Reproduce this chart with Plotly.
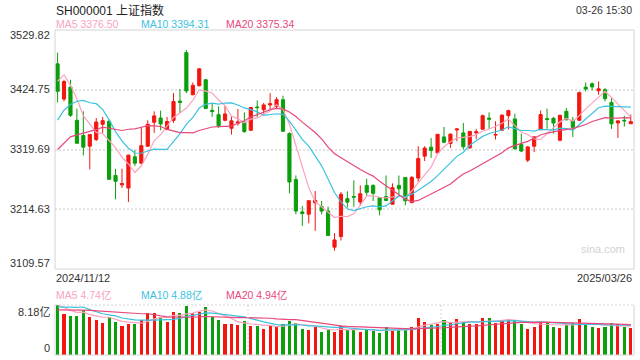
import plotly.graph_objects as go
import pandas as pd

# ---------------- data ----------------
start_label = "2024/11/12"
end_label = "2025/03/26"
title_text = "SH000001 上证指数"
time_text = "03-26 15:30"
y_tick_labels = ["3529.82", "3424.75", "3319.69", "3214.63", "3109.57"]
y_range = [3109.57, 3529.82]
vol_max = 8.18

# closes of the 19 sessions before the first shown day (for moving averages)
prior_closes = [3202.95, 3169.38, 3261.56, 3268.11, 3285.87, 3302.80, 3280.26, 3299.70,
                3322.20, 3286.41, 3266.24, 3279.82, 3272.01, 3310.21, 3386.99, 3383.81,
                3470.66, 3452.30, 3470.07]
prior_volumes = [6.5, 6.3, 7.6, 7.2, 7.0, 7.3, 6.3, 6.6, 7.3, 7.0, 6.4, 6.9, 6.6, 6.9,
                 10.5, 9.0, 8.8, 8.0, 7.2]

opens = [3470.3, 3408.4, 3429.4, 3371.0, 3344.2, 3325.5, 3337.2, 3364.0, 3369.3, 3274.1,
         3257.5, 3252.0, 3306.8, 3295.7, 3325.5, 3367.5, 3375.1, 3354.7, 3371.0, 3404.8,
         3490.1, 3416.0, 3431.8, 3442.3, 3388.6, 3381.0, 3371.0, 3357.0, 3366.0, 3367.5,
         3353.5, 3394.5, 3389.7, 3398.0, 3395.0, 3407.2, 3347.7, 3267.1, 3210.0, 3206.0,
         3226.0, 3219.3, 3211.7, 3148.0, 3166.7, 3233.3, 3237.0, 3227.4, 3256.6, 3256.6,
         3235.0, 3237.0, 3223.4, 3256.6, 3270.6, 3226.3, 3269.5, 3308.0, 3323.8, 3313.8,
         3341.8, 3330.2, 3354.0, 3348.9, 3322.6, 3348.9, 3355.4, 3375.0, 3345.0, 3353.5,
         3379.2, 3373.4, 3328.4, 3301.0, 3325.5, 3354.7, 3374.0, 3374.6, 3336.0, 3386.8,
         3371.0, 3371.0, 3429.4, 3435.3, 3423.0, 3424.7, 3402.5, 3366.4, 3371.0, 3365.0]
highs = [3490.1, 3442.3, 3442.3, 3391.5, 3386.8, 3346.5, 3375.1, 3376.9, 3372.2, 3285.8,
         3285.8, 3310.5, 3318.5, 3359.4, 3371.0, 3386.8, 3388.0, 3376.9, 3418.9, 3425.9,
         3494.8, 3437.6, 3462.7, 3443.4, 3401.4, 3395.6, 3396.7, 3378.0, 3390.9, 3385.0,
         3394.4, 3406.0, 3401.4, 3418.9, 3411.9, 3414.3, 3350.0, 3274.1, 3220.4, 3229.9,
         3246.7, 3229.2, 3219.3, 3172.6, 3245.0, 3246.1, 3265.4, 3256.6, 3268.3, 3258.4,
         3235.5, 3274.0, 3260.1, 3274.0, 3271.0, 3273.0, 3325.5, 3325.5, 3340.0, 3346.8,
         3359.4, 3347.7, 3356.5, 3366.4, 3352.0, 3356.0, 3381.0, 3385.0, 3369.3, 3381.0,
         3389.7, 3382.7, 3347.7, 3325.5, 3342.2, 3388.5, 3391.5, 3377.0, 3380.5, 3392.6,
         3377.0, 3421.8, 3437.6, 3437.6, 3439.4, 3427.6, 3410.1, 3370.5, 3379.0, 3381.0]
lows = [3402.6, 3404.3, 3376.9, 3330.2, 3309.2, 3284.7, 3334.3, 3348.9, 3266.0, 3232.1,
        3252.0, 3227.4, 3290.5, 3294.0, 3324.3, 3348.9, 3353.5, 3354.0, 3366.4, 3383.9,
        3418.9, 3415.0, 3430.6, 3391.0, 3376.9, 3357.6, 3369.3, 3346.0, 3361.7, 3348.9,
        3353.0, 3377.0, 3382.7, 3389.7, 3392.6, 3351.0, 3242.6, 3205.9, 3185.4, 3190.0,
        3176.7, 3205.9, 3167.5, 3141.6, 3159.7, 3217.5, 3219.0, 3220.4, 3238.0, 3229.2,
        3204.0, 3229.0, 3223.0, 3238.0, 3221.6, 3225.0, 3262.5, 3299.3, 3305.0, 3312.7,
        3331.3, 3322.6, 3334.3, 3319.7, 3320.8, 3338.0, 3354.7, 3356.0, 3337.2, 3351.8,
        3354.7, 3319.7, 3315.0, 3297.5, 3315.0, 3353.5, 3356.0, 3347.7, 3334.3, 3371.0,
        3341.8, 3370.5, 3421.8, 3423.6, 3416.0, 3404.3, 3355.9, 3340.0, 3360.0, 3364.5]
closes = [3421.97, 3439.28, 3379.84, 3330.73, 3323.85, 3346.01, 3367.99, 3370.40, 3267.19, 3263.76,
          3259.76, 3309.78, 3295.70, 3326.46, 3363.98, 3378.81, 3364.65, 3368.86, 3404.08, 3402.53,
          3422.66, 3432.49, 3461.50, 3391.88, 3386.33, 3361.49, 3382.21, 3370.03, 3368.07, 3351.26,
          3393.53, 3393.35, 3398.08, 3400.14, 3407.33, 3351.76, 3262.56, 3211.43, 3206.92, 3229.64,
          3230.17, 3211.39, 3168.52, 3160.76, 3240.94, 3227.12, 3236.03, 3241.82, 3244.38, 3242.62,
          3213.62, 3230.16, 3252.63, 3250.60, 3229.49, 3270.66, 3303.67, 3322.17, 3318.06, 3346.39,
          3332.48, 3346.72, 3355.83, 3324.49, 3351.54, 3350.78, 3379.11, 3373.03, 3346.04, 3380.21,
          3388.06, 3320.90, 3316.93, 3324.21, 3341.96, 3381.10, 3372.55, 3366.16, 3379.83, 3371.92,
          3358.73, 3419.56, 3426.13, 3429.76, 3426.43, 3408.95, 3364.83, 3370.03, 3369.98, 3368.70]
volumes = [8.18, 6.71, 6.38, 6.38, 7.36, 6.22, 5.73, 5.29, 6.27, 5.45,
           4.74, 5.07, 5.07, 5.73, 6.82, 6.82, 6.16, 5.45, 7.09, 6.93,
           8.02, 6.82, 7.09, 7.80, 6.27, 5.73, 5.07, 5.07, 4.91, 5.56,
           4.74, 4.74, 4.25, 4.91, 4.64, 5.07, 5.62, 5.29, 4.25, 4.09,
           4.64, 3.82, 4.09, 3.82, 4.74, 4.09, 4.20, 3.82, 4.20, 3.98,
           3.65, 4.64, 3.98, 4.09, 4.09, 4.64, 6.11, 5.45, 4.91, 5.07,
           5.73, 5.34, 5.94, 5.45, 5.07, 5.07, 6.11, 6.11, 5.29, 5.56,
           5.84, 5.73, 5.07, 4.31, 4.64, 5.40, 5.40, 4.64, 4.47, 4.91,
           5.20, 5.85, 5.10, 4.55, 4.42, 4.55, 5.20, 5.00, 4.60, 4.35]

ma_periods = [5, 10, 20]
ma_price_labels = ["MA5 3376.50", "MA10 3394.31", "MA20 3375.34"]
ma_vol_labels = ["MA5 4.74亿", "MA10 4.88亿", "MA20 4.94亿"]
vol_tick_labels = ["8.18亿", "0"]
watermark = "sina.com"

# ---------------- styles ----------------
RED = "#f2160f"
GREEN = "#0b9f0b"
MA_COLORS = ["#fba3bd", "#3cc2df", "#e8487c"]
FONT = "Arial, 'Liberation Sans', 'Noto Sans CJK SC', sans-serif"

W, H = 640, 360
ML, MR, MT, MB = 55, 6, 30, 5
PW, PH = W - ML - MR, H - MT - MB


def px(xp):
    return (xp - ML) / PW


def py(yp):
    return (H - MB - yp) / PH


main_bottom = py(269)
vol_top = py(305)

n = len(closes)
x = list(range(n))
np_ = len(prior_closes)
close_all = pd.Series(prior_closes + closes)
vol_all = pd.Series(prior_volumes + volumes)

fig = go.Figure()

fig.add_trace(go.Candlestick(
    x=x, open=opens, high=highs, low=lows, close=closes,
    increasing=dict(line=dict(color=RED, width=1), fillcolor=RED),
    decreasing=dict(line=dict(color=GREEN, width=1), fillcolor=GREEN),
    whiskerwidth=0, xaxis="x", yaxis="y", showlegend=False, hoverinfo="skip"))

for p, col in zip(ma_periods, MA_COLORS):
    ma = close_all.rolling(p).mean().iloc[np_:].tolist()
    fig.add_trace(go.Scatter(x=x, y=ma, mode="lines", line=dict(color=col, width=1.2),
                             xaxis="x", yaxis="y", showlegend=False, hoverinfo="skip"))

vol_colors = [RED if c > o else GREEN for o, c in zip(opens, closes)]
fig.add_trace(go.Bar(x=x, y=volumes, marker=dict(color=vol_colors, line=dict(width=0)),
                     width=0.48, xaxis="x2", yaxis="y2", showlegend=False, hoverinfo="skip"))
for p, col in zip(ma_periods, MA_COLORS):
    ma = vol_all.rolling(p).mean().iloc[np_:].tolist()
    fig.add_trace(go.Scatter(x=x, y=ma, mode="lines", line=dict(color=col, width=1.2),
                             xaxis="x2", yaxis="y2", showlegend=False, hoverinfo="skip"))

xr = [-0.4, n - 0.5]
axis_common = dict(range=xr, showticklabels=False, showgrid=False, zeroline=False,
                   showline=False, ticks="")
fig.update_layout(
    width=W, height=H, margin=dict(l=ML, r=MR, t=MT, b=MB),
    paper_bgcolor="white", plot_bgcolor="white",
    font=dict(family=FONT, size=11, color="#333"),
    bargap=0,
    xaxis=dict(domain=[0, 1], anchor="y", rangeslider=dict(visible=False), **axis_common),
    xaxis2=dict(domain=[0, 1], anchor="y2", **axis_common),
    yaxis=dict(domain=[main_bottom, 1], range=y_range,
               tickvals=[float(v) for v in y_tick_labels[1:4]],
               showticklabels=False, showgrid=True, gridcolor="#e2e2e2", gridwidth=1.5,
               griddash="2px,2px", zeroline=False, ticks=""),
    yaxis2=dict(domain=[0, vol_top], range=[0, vol_max], showticklabels=False,
                showgrid=False, zeroline=False, ticks=""),
)

frame = "#d4d4d4"
shapes = [
    dict(type="rect", xref="paper", yref="paper", x0=0, x1=1, y0=main_bottom, y1=1,
         line=dict(color=frame, width=1)),
    dict(type="line", xref="paper", yref="paper", x0=0, x1=0, y0=0, y1=vol_top,
         line=dict(color=frame, width=1)),
    dict(type="line", xref="paper", yref="paper", x0=1, x1=1, y0=0, y1=vol_top,
         line=dict(color=frame, width=1)),
    dict(type="line", xref="paper", yref="paper", x0=0, x1=1, y0=0, y1=0,
         line=dict(color=frame, width=1)),
    dict(type="line", xref="paper", yref="paper", x0=0, x1=1, y0=vol_top, y1=vol_top,
         line=dict(color=frame, width=1, dash="2px,2px")),
    dict(type="line", xref="paper", yref="paper", x0=1 / 3, x1=1 / 3, y0=0, y1=vol_top,
         line=dict(color=frame, width=1, dash="2px,2px")),
    dict(type="line", xref="paper", yref="paper", x0=2 / 3, x1=2 / 3, y0=0, y1=vol_top,
         line=dict(color=frame, width=1, dash="2px,2px")),
]
fig.update_layout(shapes=shapes)

ann = []


def add_text(text, xp, yp, xanchor="left", size=11, color="#333"):
    ann.append(dict(text=text, x=px(xp), y=py(yp), xref="paper", yref="paper",
                    xanchor=xanchor, yanchor="middle", showarrow=False,
                    font=dict(size=size, color=color, family=FONT)))


add_text(title_text, 54, 10, size=12, color="#222")
add_text(time_text, 634, 10, xanchor="right", size=10.5, color="#333")
for lbl, xp, col in zip(ma_price_labels, [54, 139, 224], MA_COLORS):
    add_text(lbl, xp, 24, size=10.5, color=col)
for lbl, yp in zip(y_tick_labels, [35, 89, 149, 209, 263]):
    add_text(lbl, 52, yp, xanchor="right", size=11)
add_text(start_label, 54, 278, size=11)
add_text(end_label, 634, 278, xanchor="right", size=11)
for lbl, xp, col in zip(ma_vol_labels, [54, 139, 224], MA_COLORS):
    add_text(lbl, xp, 295, size=10.5, color=col)
add_text(vol_tick_labels[0], 52, 312, xanchor="right", size=11)
add_text(vol_tick_labels[1], 52, 348, xanchor="right", size=11)
add_text(watermark, 603, 249, xanchor="center", size=11, color="#d2d2d2")
fig.update_layout(annotations=ann)

fig.write_html("out.html", config={"displayModeBar": False})

# remove the browser's default page margin so the figure sits at the top-left corner
with open("out.html", "r", encoding="utf-8") as f:
    html = f.read()
html = html.replace("<head>", "<head><style>html,body{margin:0;padding:0;overflow:hidden;}</style>", 1)
with open("out.html", "w", encoding="utf-8") as f:
    f.write(html)
